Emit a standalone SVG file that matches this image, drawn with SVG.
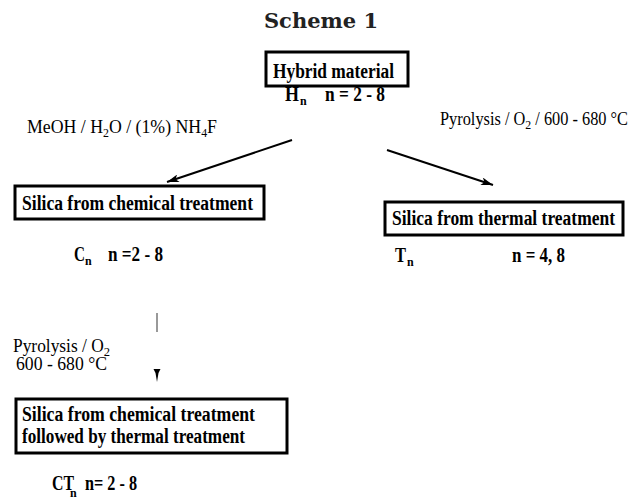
<svg xmlns="http://www.w3.org/2000/svg" width="635" height="502" viewBox="0 0 635 502">
<style>
.box{fill:#fff;stroke:#000;stroke-width:3}
.bt{font-family:"Liberation Serif","Times New Roman",serif;font-weight:bold;font-size:20px;fill:#000}
.lab{font-family:"Liberation Serif","Times New Roman",serif;font-weight:bold;font-size:20px;fill:#000}
.sub{font-family:"Liberation Serif","Times New Roman",serif;font-weight:bold;font-size:12px;fill:#000}
.cond{font-family:"Liberation Serif","Times New Roman",serif;font-size:18px;fill:#000}
.title{font-family:"DejaVu Serif",serif;font-weight:bold;font-size:21px;fill:#222}
.ar{stroke:#000;stroke-width:2;fill:none}
</style>
<defs>
<marker id="ah" viewBox="0 0 12 8" refX="12" refY="4" markerWidth="13" markerHeight="8" markerUnits="userSpaceOnUse" orient="auto">
<path d="M0,0 L12,4 L0,8 L3,4 Z" fill="#000"/>
</marker>
</defs>
<text class="title" x="321" y="28" text-anchor="middle">Scheme 1</text>
<g id="hybrid">
<rect class="box" x="266" y="52" width="142" height="34"/>
<text class="bt" x="273" y="78" font-size="22" textLength="121" lengthAdjust="spacingAndGlyphs">Hybrid material</text>
<text class="lab" x="285" y="101" textLength="14" lengthAdjust="spacingAndGlyphs">H</text>
<text class="sub" x="300" y="105">n</text>
<text class="lab" x="325" y="101" textLength="60" lengthAdjust="spacingAndGlyphs">n = 2 - 8</text>
</g>
<g id="chem">
<rect class="box" x="15" y="186" width="249" height="33"/>
<text class="bt" x="22" y="210" textLength="231" lengthAdjust="spacingAndGlyphs">Silica from chemical treatment</text>
<text class="lab" x="74" y="261" textLength="11" lengthAdjust="spacingAndGlyphs">C</text>
<text class="sub" x="85" y="265">n</text>
<text class="lab" x="108" y="261" textLength="55" lengthAdjust="spacingAndGlyphs">n =2 - 8</text>
</g>
<g id="thermal">
<rect class="box" x="385" y="202" width="238" height="33"/>
<text class="bt" x="392" y="225" textLength="223" lengthAdjust="spacingAndGlyphs">Silica from thermal treatment</text>
<text class="lab" x="395" y="262" textLength="11" lengthAdjust="spacingAndGlyphs">T</text>
<text class="sub" x="407" y="266">n</text>
<text class="lab" x="512" y="262" textLength="53" lengthAdjust="spacingAndGlyphs">n = 4, 8</text>
</g>
<g id="chemthermal">
<rect class="box" x="16" y="399" width="271" height="54"/>
<text class="bt" x="22" y="421" textLength="233" lengthAdjust="spacingAndGlyphs">Silica from chemical treatment</text>
<text class="bt" x="22" y="443" textLength="223" lengthAdjust="spacingAndGlyphs">followed by thermal treatment</text>
<text class="lab" x="52" y="490" textLength="22" lengthAdjust="spacingAndGlyphs">CT</text>
<text class="sub" x="70" y="497">n</text>
<text class="lab" x="85" y="490" textLength="52" lengthAdjust="spacingAndGlyphs">n= 2 - 8</text>
</g>
<g id="connectors">
<line class="ar" x1="292" y1="140" x2="167" y2="182" marker-end="url(#ah)"/>
<line class="ar" x1="387" y1="150" x2="493" y2="185" marker-end="url(#ah)"/>
<line x1="157" y1="313" x2="157" y2="332" stroke="#555" stroke-width="1.2"/>
<path d="M153.5,369 L160.5,369 L158.5,373 L157,382 L155.5,373 Z" fill="#000"/>
<text class="cond" x="27" y="133" textLength="190" lengthAdjust="spacingAndGlyphs">MeOH / H<tspan font-size="12" dy="4">2</tspan><tspan dy="-4">O / (1%) NH</tspan><tspan font-size="12" dy="4">4</tspan><tspan dy="-4">F</tspan></text>
<text class="cond" x="440" y="125" textLength="188" lengthAdjust="spacingAndGlyphs">Pyrolysis / O<tspan font-size="13" dy="4">2</tspan><tspan dy="-4"> / 600 - 680 °C</tspan></text>
<text class="cond" x="13" y="352" textLength="97" lengthAdjust="spacingAndGlyphs">Pyrolysis / O<tspan font-size="13" dy="4">2</tspan></text>
<text class="cond" x="16" y="370" textLength="91" lengthAdjust="spacingAndGlyphs">600 - 680 °C</text>
</g>
</svg>
